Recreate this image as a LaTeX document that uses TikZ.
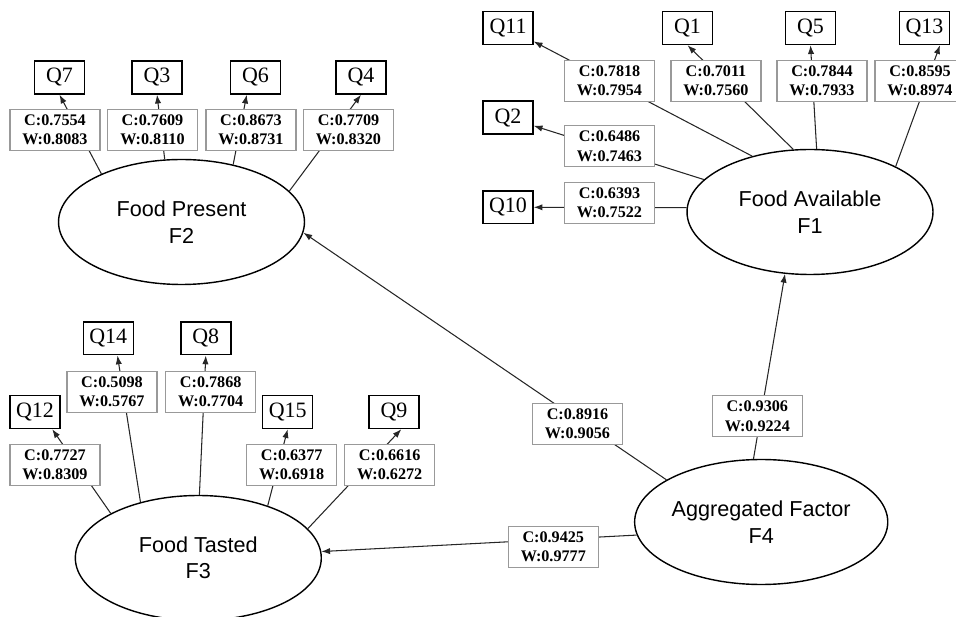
\documentclass[tikz,border=0pt]{standalone}
\usepackage{fontspec}
\setmainfont{Liberation Serif}
\newfontfamily\factorfont{Liberation Sans}
\usetikzlibrary{shapes.geometric,arrows.meta}

\tikzset{
  qbox/.style={draw,line width=0.8pt,minimum width=1.0cm,minimum height=0.66cm,inner sep=0pt,font=\fontsize{12.5}{14}\selectfont},
  wbox/.style={draw=black!40,fill=white,line width=0.6pt,minimum width=1.8cm,minimum height=0.82cm,inner sep=0pt,align=center,font=\fontsize{9.2}{11}\selectfont\bfseries},
  factor/.style={draw,ellipse,line width=0.8pt,minimum width=4.92cm,minimum height=2.5cm,inner sep=0pt,align=center,font=\factorfont\fontsize{12.3}{15}\selectfont},
  link/.style={line width=0.6pt,draw=black!85,-{Latex[length=5pt,width=3.6pt]}}
}

\begin{document}
\begin{tikzpicture}[x=0.02cm,y=-0.02cm]
\clip (0,0) rectangle (956,617);

\node[factor] (F2) at (181.5,222) {Food Present\\F2};
\node[factor] (F1) at (810,212) {Food Available\\F1};
\node[factor] (F3) at (198.3,558) {Food Tasted\\F3};
\node[factor] (F4) at (761.2,522) {Aggregated Factor\\F4};

\node[qbox] (Q7) at (59.5,77.5) {Q7};
\node[qbox] (Q3) at (157,77.5) {Q3};
\node[qbox] (Q6) at (255.5,77.5) {Q6};
\node[qbox] (Q4) at (361,77.5) {Q4};

\node[qbox] (Q11) at (508,28) {Q11};
\node[qbox] (Q1) at (687.5,28) {Q1};
\node[qbox] (Q5) at (810.5,28) {Q5};
\node[qbox] (Q13) at (924.5,28) {Q13};
\node[qbox] (Q2) at (508,117.7) {Q2};
\node[qbox] (Q10) at (508,207.3) {Q10};

\node[qbox] (Q14) at (108.3,338.3) {Q14};
\node[qbox] (Q8) at (205.8,338.3) {Q8};
\node[qbox] (Q12) at (35,412) {Q12};
\node[qbox] (Q15) at (287.7,412) {Q15};
\node[qbox] (Q9) at (394,412) {Q9};

\draw[link] (F2.149) -- (Q7.south);
\draw[link] (F2.105) -- (Q3.south);
\draw[link] (F2.48) -- (Q6.243);
\draw[link] (F2.16) -- (Q4.south);

\draw[link] (F1.136) -- (Q11);
\draw[link] (F1.105) -- (Q1.south);
\draw[link] (F1.84) -- (Q5.south);
\draw[link] (F1.28) -- (Q13.312);
\draw[link] (F1.163) -- (Q2);
\draw[link] (F1.178) -- (Q10.east);

\draw[link] (F3.153) -- (Q12.315);
\draw[link] (F3.136) -- (Q14.298);
\draw[link] (F3.89) -- (Q8.south);
\draw[link] (F3.37) -- (Q15.south);
\draw[link] (F3.15) -- (Q9.293);

\draw[link] (F4.97) -- (F1.248);
\draw[link] (F4.156) -- (F2.355);
\draw[link] (F4.186) -- (F3.3);

\node[wbox] (w7) at (55,130) {C:0.7554\\W:0.8083};
\node[wbox] (w3) at (152.5,130) {C:0.7609\\W:0.8110};
\node[wbox] (w6) at (251,130) {C:0.8673\\W:0.8731};
\node[wbox] (w4) at (348.5,130) {C:0.7709\\W:0.8320};

\node[wbox] (w11) at (609.5,81) {C:0.7818\\W:0.7954};
\node[wbox] (w1) at (716,81) {C:0.7011\\W:0.7560};
\node[wbox] (w5) at (822,81) {C:0.7844\\W:0.7933};
\node[wbox] (w13) at (920,81) {C:0.8595\\W:0.8974};
\node[wbox] (w2) at (609.5,146.3) {C:0.6486\\W:0.7463};
\node[wbox] (w10) at (609.5,202.7) {C:0.6393\\W:0.7522};

\node[wbox] (w14) at (112,391.7) {C:0.5098\\W:0.5767};
\node[wbox] (w8) at (210.7,391.7) {C:0.7868\\W:0.7704};
\node[wbox] (w12) at (55,465) {C:0.7727\\W:0.8309};
\node[wbox] (w15) at (291.7,465) {C:0.6377\\W:0.6918};
\node[wbox] (w9) at (389.7,465) {C:0.6616\\W:0.6272};

\node[wbox] (wF1) at (757.3,416.2) {C:0.9306\\W:0.9224};
\node[wbox] (wF2) at (577.5,423.8) {C:0.8916\\W:0.9056};
\node[wbox] (wF3) at (553.3,546.7) {C:0.9425\\W:0.9777};
\end{tikzpicture}
\end{document}
